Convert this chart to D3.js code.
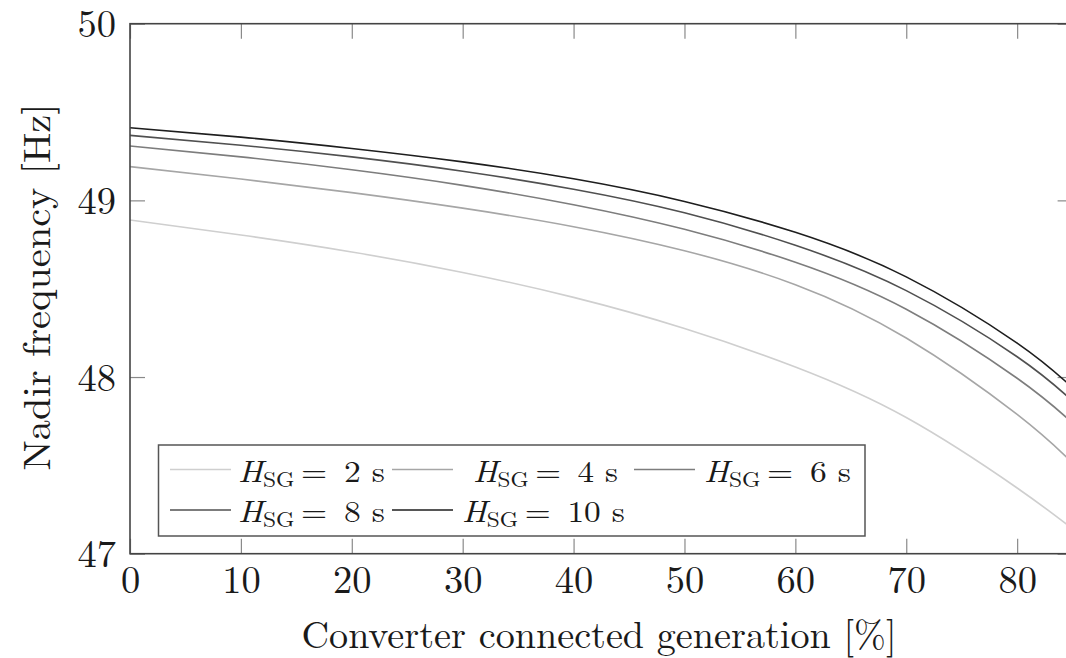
<!DOCTYPE html>
<html><head><meta charset="utf-8">
<script src="https://cdn.jsdelivr.net/npm/d3@7"></script>
<style>
html,body{margin:0;padding:0;background:#fff;}
svg{display:block;}
</style></head>
<body>
<script>
// ---- data ----
const xValues = [0, 10, 20, 30, 40, 50, 60, 70, 80, 85];
const seriesNames = ["2", "4", "6", "8", "10"];
const h2  = [48.889, 48.804, 48.708, 48.592, 48.451, 48.275, 48.057, 47.771, 47.372, 47.140];
const h4  = [49.191, 49.121, 49.044, 48.956, 48.851, 48.715, 48.523, 48.221, 47.788, 47.514];
const h6  = [49.308, 49.246, 49.173, 49.085, 48.975, 48.836, 48.650, 48.384, 47.993, 47.740];
const h8  = [49.368, 49.312, 49.246, 49.165, 49.063, 48.930, 48.746, 48.489, 48.115, 47.864];
const h10 = [49.411, 49.358, 49.294, 49.218, 49.122, 48.994, 48.819, 48.567, 48.192, 47.939];
const xTicks = [0, 10, 20, 30, 40, 50, 60, 70, 80];
const yTicks = [47, 48, 49, 50];
const xTitle = "Converter connected generation [%]";
const yTitle = "Nadir frequency [Hz]";

const FONT = '"Latin Modern Roman", "CMU Serif", "Liberation Serif", serif';
const colors = ["#cfcfcf", "#a6a6a6", "#7d7d7d", "#505050", "#1e1e1e"];
const allSeries = [h2, h4, h6, h8, h10];

const W = 1066, H = 658;
const svg = d3.select("body").append("svg").attr("width", W).attr("height", H);

const x = d3.scaleLinear().domain([0, 85]).range([130, 1072.6]);
const y = d3.scaleLinear().domain([47, 50]).range([553.7, 23.7]);

// ticks (inward, mirrored)
const tickColor = "#8a8a8a";
const gb = svg.append("g").attr("transform", `translate(0,${y(47)})`)
  .call(d3.axisBottom(x).tickValues(xTicks).tickSize(-15).tickPadding(0).tickFormat(d3.format("d")));
const gt = svg.append("g").attr("transform", `translate(0,${y(50)})`)
  .call(d3.axisTop(x).tickValues(xTicks).tickSize(-15).tickFormat(""));
const gl = svg.append("g").attr("transform", `translate(${x(0)},0)`)
  .call(d3.axisLeft(y).tickValues(yTicks).tickSize(-15).tickPadding(0).tickFormat(d3.format("d")));
const gr = svg.append("g").attr("transform", `translate(${x(85)},0)`)
  .call(d3.axisRight(y).tickValues(yTicks).tickSize(-15).tickFormat(""));
[gb, gt, gl, gr].forEach(g => {
  g.select(".domain").remove();
  g.selectAll(".tick line").attr("stroke", tickColor).attr("stroke-width", 1.2);
});
gb.selectAll(".tick text").attr("y", 39).attr("dy", 0)
  .style("font-family", FONT).style("font-size", "38.5px").attr("fill", "#1a1a1a");
gl.selectAll(".tick text").attr("x", -14).attr("dy", 13)
  .style("font-family", FONT).style("font-size", "38.5px").attr("fill", "#1a1a1a");

// curves
const line = d3.line().x((d, i) => x(xValues[i])).y(d => y(d)).curve(d3.curveNatural);
svg.append("defs").append("clipPath").attr("id", "clip")
  .append("rect").attr("x", x(0)).attr("y", y(50)).attr("width", x(85) - x(0)).attr("height", y(47) - y(50));
const gc = svg.append("g").attr("clip-path", "url(#clip)");
allSeries.forEach((s, i) => {
  gc.append("path").attr("d", line(s)).attr("fill", "none")
    .attr("stroke", colors[i]).attr("stroke-width", 1.6);
});

// frame
svg.append("rect").attr("x", x(0)).attr("y", y(50)).attr("width", x(85) - x(0)).attr("height", y(47) - y(50))
  .attr("fill", "none").attr("stroke", "#444").attr("stroke-width", 1.6);

// axis titles
svg.append("text").attr("x", 599).attr("y", 648).attr("text-anchor", "middle")
  .style("font-family", FONT).style("font-size", "38.5px").attr("fill", "#1a1a1a")
  .attr("textLength", 595).attr("lengthAdjust", "spacingAndGlyphs").text(xTitle);
svg.append("text").attr("transform", "translate(50,287) rotate(-90)").attr("text-anchor", "middle")
  .style("font-family", FONT).style("font-size", "38.5px").attr("fill", "#1a1a1a")
  .attr("textLength", 367).attr("lengthAdjust", "spacingAndGlyphs").text(yTitle);

// legend
const lg = svg.append("g");
lg.append("rect").attr("x", 158.5).attr("y", 445).attr("width", 706.5).attr("height", 91)
  .attr("fill", "#fff").attr("stroke", "#555").attr("stroke-width", 1.5);
const legendPos = [
  {lx: 170, tx: 238, tw: 147, row: 0},
  {lx: 392, tx: 473, tw: 145, row: 0},
  {lx: 634, tx: 704, tw: 147, row: 0},
  {lx: 170, tx: 238, tw: 147, row: 1},
  {lx: 392, tx: 462, tw: 163, row: 1}
];
const rowY = [469.5, 510];
const rowBase = [481.7, 522];
seriesNames.forEach((n, i) => {
  const p = legendPos[i];
  lg.append("line").attr("x1", p.lx).attr("x2", p.lx + 61)
    .attr("y1", rowY[p.row]).attr("y2", rowY[p.row])
    .attr("stroke", colors[i]).attr("stroke-width", 1.6);
  const t = lg.append("text").attr("x", p.tx).attr("y", rowBase[p.row])
    .style("font-family", FONT).style("font-size", "30px").attr("fill", "#1a1a1a")
    .attr("textLength", p.tw).attr("lengthAdjust", "spacingAndGlyphs");
  t.append("tspan").style("font-style", "italic").text("H");
  t.append("tspan").style("font-size", "21px").attr("dy", 5).text("SG");
  t.append("tspan").attr("dy", -5).text("\u2009=\u2002" + n + " s");
});
</script>
</body></html>
